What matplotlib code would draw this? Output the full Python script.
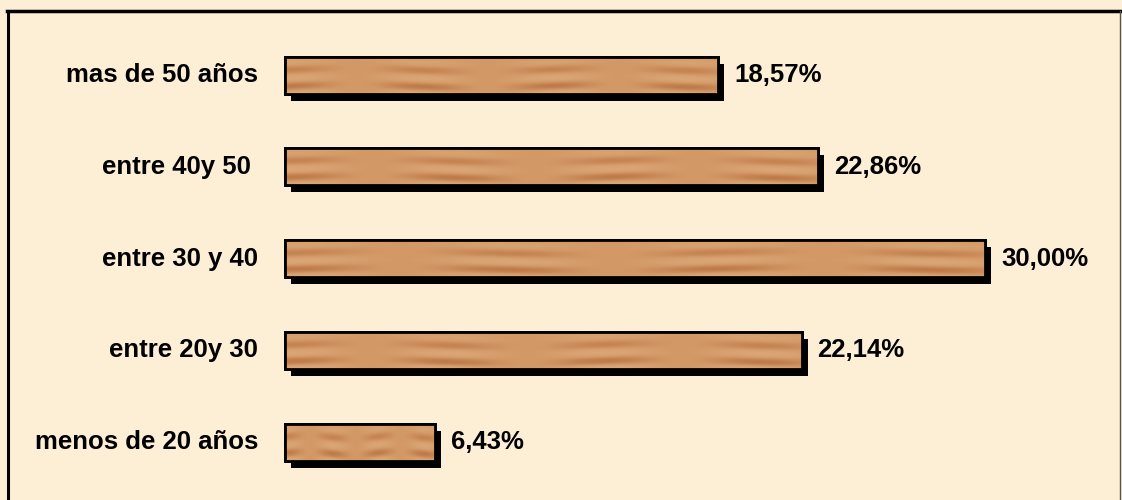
import numpy as np
import matplotlib.pyplot as plt
from matplotlib.lines import Line2D
from matplotlib.colors import LinearSegmentedColormap

# datos
categorias = ["menos de 20 años", "entre 20y 30", "entre 30 y 40", "entre 40y 50 ", "mas de 50 años"]
porcentajes = [6.43, 22.14, 30.00, 22.86, 18.57]
etiquetas = ["6,43%", "22,14%", "30,00%", "22,86%", "18,57%"]

W, H = 1122, 500
px_x = 700 / 30.0   # pixeles por punto porcentual
px_y = 91.75        # pixeles entre barras
x0, y0 = 285, 58    # origen en pixeles

fig = plt.figure(figsize=(W / 100, H / 100), dpi=100)
fig.patch.set_facecolor("#fcefd6")
ax = fig.add_axes([0, 0, 1, 1])
ax.set_facecolor("none")
ax.axis("off")

alto = 37 / px_y
pos = np.arange(len(categorias))

# sombra
ax.barh(pos - 7 / px_y, porcentajes, left=6 / px_x, height=alto, color="black", zorder=1)

# textura de madera (decorativa)
tx = np.linspace(0, 1, 300)
ty = np.linspace(0, 1, 40)
X, Y = np.meshgrid(tx, ty)
vetas = np.sin(2 * np.pi * (Y * 2.2 + 0.10 * np.sin(2 * np.pi * X * 1.7)))
vetas = vetas * (0.5 + 0.5 * np.sin(2 * np.pi * X * 3.3 + 1.3)) * (0.4 + 0.6 * Y)
madera = LinearSegmentedColormap.from_list("madera", ["#bd7a48", "#d49b69", "#ddaa7b"])

barras = ax.barh(pos, porcentajes, height=alto, color="#d49b69",
                 edgecolor="black", linewidth=2, zorder=2)
for b in barras:
    im = ax.imshow(vetas, cmap=madera, aspect="auto", interpolation="bicubic",
                   extent=[b.get_x(), b.get_x() + b.get_width(),
                           b.get_y(), b.get_y() + b.get_height()], zorder=3)
    im.set_clip_path(b)
    ax.add_patch(plt.Rectangle((b.get_x(), b.get_y()), b.get_width(), b.get_height(),
                               fill=False, edgecolor="black", linewidth=2, zorder=4))
ax.set_xlim(-x0 / px_x, (W - x0) / px_x)
ax.set_ylim(-y0 / px_y, (H - y0) / px_y)

fuente = dict(fontsize=18.5, fontweight="bold", family=["Liberation Sans", "DejaVu Sans"], color="black")
for i, cat in enumerate(categorias):
    ax.text(-27 / px_x, pos[i], cat, ha="right", va="center", **fuente)
for i, v in enumerate(porcentajes):
    ax.text(v + 16 / px_x, pos[i], etiquetas[i], ha="left", va="center", **fuente)

# marco
fig.add_artist(Line2D([7.5 / W, 7.5 / W], [0, 1 - 11 / H], color="black", lw=2.2, transform=fig.transFigure))
fig.add_artist(Line2D([7 / W, 1120 / W], [1 - 11 / H, 1 - 11 / H], color="black", lw=2.5, transform=fig.transFigure))
fig.add_artist(Line2D([1120 / W, 1120 / W], [0, 1 - 11 / H], color="#555555", lw=1, transform=fig.transFigure))

fig.savefig("out.png", dpi=100, facecolor=fig.get_facecolor())
